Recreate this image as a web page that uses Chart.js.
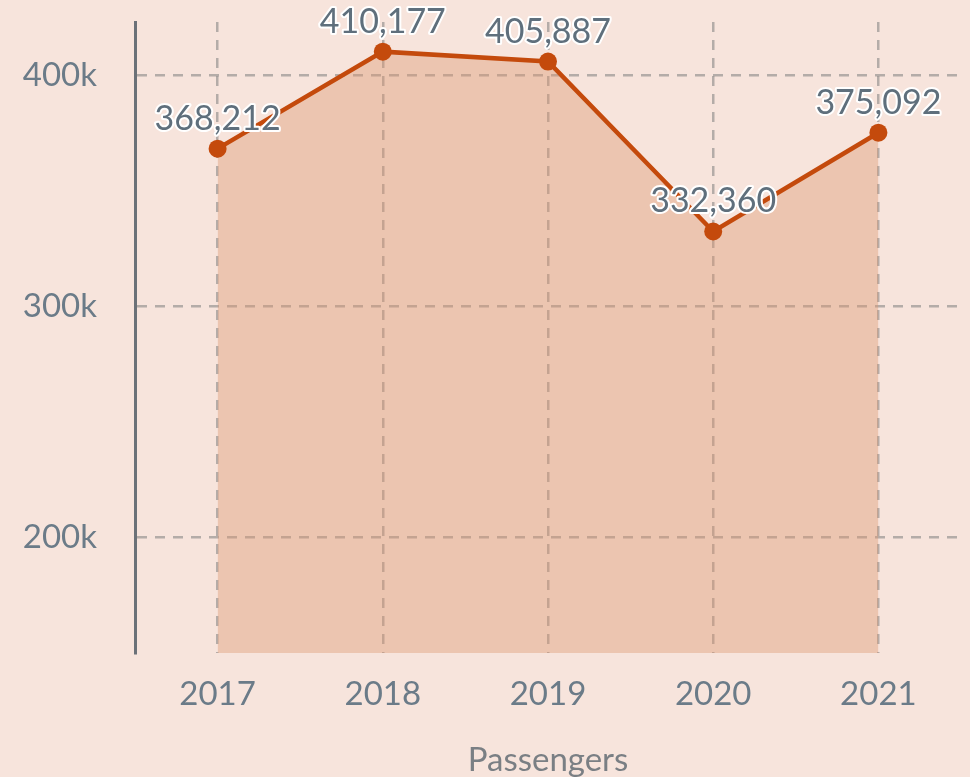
<!DOCTYPE html>
<html>
<head>
<meta charset="utf-8">
<script src="https://cdn.jsdelivr.net/npm/chart.js@4/dist/chart.umd.min.js"></script>
<style>
  html, body { margin: 0; padding: 0; background: #f7e4dc; }
  #wrap { width: 970px; height: 777px; }
</style>
</head>
<body>
<div id="wrap"><canvas id="chart"></canvas></div>
<script>
// data
const years = ['2017', '2018', '2019', '2020', '2021'];
const passengers = [368212, 410177, 405887, 332360, 375092];
const yTicks = [200000, 300000, 400000];

const textColor = '#6b7b88';
const gridColor = 'rgba(125,125,125,0.55)';

// labels above the points, white outline
const valueLabels = {
    id: 'valueLabels',
    afterDatasetsDraw(chart) {
        const ctx = chart.ctx;
        const meta = chart.getDatasetMeta(0);
        ctx.save();
        ctx.font = '34px Lato';
        ctx.textAlign = 'center';
        ctx.textBaseline = 'middle';
        ctx.lineJoin = 'round';
        meta.data.forEach((pt, i) => {
            const txt = passengers[i].toLocaleString('en-US');
            ctx.strokeStyle = '#ffffff';
            ctx.lineWidth = 4;
            ctx.strokeText(txt, pt.x, pt.y - 30);
            ctx.fillStyle = '#5f6f7c';
            ctx.fillText(txt, pt.x, pt.y - 30);
        });
        ctx.restore();
    }
};

new Chart(document.getElementById('chart'), {
    type: 'line',
    data: {
        labels: years,
        datasets: [{
            label: 'Passengers',
            data: passengers,
            borderColor: '#c44a0c',
            backgroundColor: 'rgba(220,150,110,0.4)',
            borderWidth: 4.5,
            pointRadius: 9,
            pointBackgroundColor: '#c44a0c',
            pointBorderWidth: 0,
            fill: 'start',
            tension: 0
        }]
    },
    options: {
        responsive: true,
        maintainAspectRatio: false,
        animation: false,
        layout: { padding: { top: 22, right: 8, left: 0, bottom: 0 } },
        plugins: {
            legend: { display: false },
            tooltip: { enabled: false }
        },
        scales: {
            x: {
                offset: true,
                afterFit: (scale) => {
                    scale.paddingLeft = 0;
                    scale.paddingRight = 0;
                    scale.height = 124;
                },
                grid: {
                    offset: false,
                    color: gridColor,
                    lineWidth: 2.5,
                    drawTicks: false
                },
                border: { display: false, dash: [10, 8] },
                ticks: { color: textColor, font: { family: 'Lato', size: 33 }, padding: 22 },
                title: {
                    display: true,
                    text: 'Passengers',
                    color: '#7a7f84',
                    font: { family: 'Lato', size: 33 },
                    padding: { top: 25, bottom: -3 }
                }
            },
            y: {
                min: 150000,
                max: 423000,
                afterBuildTicks: (scale) => {
                    scale.ticks = yTicks.map(v => ({ value: v }));
                },
                afterFit: (scale) => {
                    scale.paddingTop = 0;
                    scale.paddingBottom = 0;
                    scale.width = 135;
                },
                grid: {
                    color: gridColor,
                    lineWidth: 2.5,
                    drawTicks: false
                },
                border: { display: true, color: '#6b7178', width: 3, dash: [10, 8] },
                ticks: {
                    color: textColor,
                    font: { family: 'Lato', size: 33 },
                    padding: 38,
                    callback: v => (v / 1000) + 'k'
                }
            }
        }
    },
    plugins: [valueLabels]
});
</script>
</body>
</html>
